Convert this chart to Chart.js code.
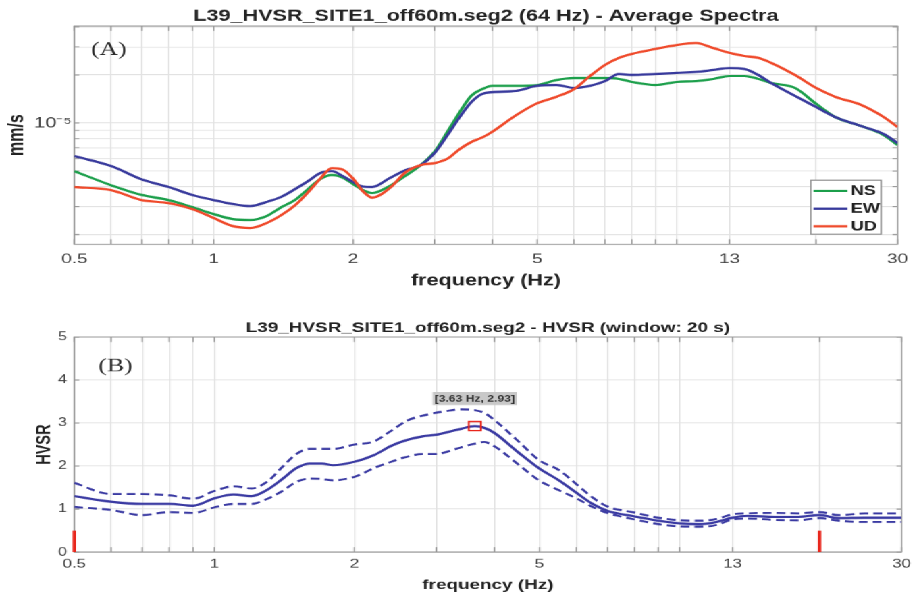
<!DOCTYPE html>
<html>
<head>
<meta charset="utf-8">
<script src="https://cdn.jsdelivr.net/npm/chart.js"></script>
<style>
  html, body { margin: 0; padding: 0; background: #fff; overflow: hidden; }
  /* la figura original viene estirada en horizontal */
  #figura { width: 679px; transform: scaleX(1.3505); transform-origin: 0 0; }
  canvas { display: block; }
</style>
</head>
<body>
<div id="figura">
  <canvas id="graficoEspectros" width="679" height="295"></canvas>
  <canvas id="graficoHvsr" width="679" height="300"></canvas>
</div>
<script>
// Datos

// (A) espectros promedio, valores en unidades de 1e-6 mm/s
const freqEspectros = [0.5, 0.6, 0.7, 0.8, 0.9, 1.0, 1.1, 1.2, 1.3, 1.4, 1.5, 1.6, 1.7, 1.8, 1.9,
  2.0, 2.1, 2.2, 2.4, 2.6, 2.8, 3.0, 3.2, 3.4, 3.6, 3.8, 4.0, 4.5, 5, 5.5, 6, 6.5, 7, 7.5, 8,
  9, 10, 11, 12, 13, 14, 15, 16, 18, 20, 22, 25, 28, 30];
const espectroNS = [5.00, 4.08, 3.54, 3.29, 2.97, 2.69, 2.50, 2.47, 2.61, 2.97, 3.30, 3.86, 4.46, 4.72, 4.55,
  4.15, 3.80, 3.64, 4.03, 4.69, 5.45, 6.62, 8.84, 11.7, 14.8, 16.3, 17.1, 17.1, 17.3, 18.6, 19.1, 19.1, 19.1, 18.9, 18.1,
  17.3, 18.1, 18.3, 18.9, 19.7, 19.7, 18.9, 17.8, 16.6, 13.2, 10.9, 9.58, 8.41, 7.28];
const espectroEW = [6.21, 5.38, 4.43, 3.97, 3.54, 3.29, 3.11, 3.02, 3.20, 3.45, 3.86, 4.33, 4.86, 5.00, 4.65,
  4.27, 4.00, 3.97, 4.52, 5.08, 5.45, 6.49, 8.41, 10.9, 13.5, 15.2, 15.6, 15.9, 17.1, 17.3, 16.6, 17.1, 18.3, 20.3, 20.0,
  20.3, 20.6, 20.9, 21.5, 22.1, 21.8, 20.0, 17.8, 14.8, 12.6, 10.9, 9.58, 8.53, 7.49];
const espectroUD = [3.97, 3.80, 3.29, 3.15, 2.89, 2.54, 2.26, 2.20, 2.36, 2.65, 3.06, 3.69, 4.49, 5.22, 5.11,
  4.49, 3.74, 3.41, 3.91, 4.93, 5.45, 5.61, 5.98, 6.87, 7.60, 8.11, 8.83, 11.2, 13.3, 14.6, 16.3, 19.7, 23.1, 25.6, 27.1,
  29.1, 30.8, 31.7, 29.5, 27.5, 26.3, 25.6, 23.8, 20.0, 16.6, 14.6, 13.0, 10.9, 9.44];
const UNIDAD_ESPECTRO = 1e-6;

// (B) curva HVSR con su banda (líneas discontinuas)
const freqHvsr = [0.5, 0.6, 0.7, 0.8, 0.9, 1.0, 1.1, 1.2, 1.3, 1.4, 1.5, 1.6, 1.7, 1.8,
  2.0, 2.2, 2.4, 2.6, 2.8, 3.0, 3.2, 3.4, 3.63, 3.8, 4.0, 4.5, 5, 5.5, 6, 6.5, 7,
  8, 9, 10, 11, 12, 13, 14, 16, 18, 20, 22, 25, 30];
const hvsrMedia = [1.30, 1.17, 1.12, 1.12, 1.08, 1.25, 1.34, 1.30, 1.45, 1.70, 1.95, 2.06, 2.06, 2.02,
  2.10, 2.25, 2.47, 2.61, 2.69, 2.73, 2.80, 2.87, 2.93, 2.89, 2.77, 2.32, 1.94, 1.67, 1.38, 1.12, 0.96,
  0.83, 0.73, 0.67, 0.65, 0.70, 0.80, 0.84, 0.82, 0.82, 0.86, 0.79, 0.80, 0.80];
const hvsrSuperior = [1.61, 1.35, 1.35, 1.32, 1.24, 1.42, 1.53, 1.48, 1.64, 1.98, 2.28, 2.40, 2.40, 2.40,
  2.50, 2.57, 2.82, 3.06, 3.17, 3.24, 3.29, 3.32, 3.30, 3.24, 3.07, 2.58, 2.13, 1.91, 1.58, 1.27, 1.06,
  0.92, 0.80, 0.74, 0.73, 0.77, 0.88, 0.90, 0.91, 0.90, 0.93, 0.86, 0.90, 0.90];
const hvsrInferior = [1.05, 0.98, 0.86, 0.93, 0.91, 1.04, 1.12, 1.12, 1.24, 1.42, 1.63, 1.71, 1.70, 1.67,
  1.75, 1.95, 2.10, 2.22, 2.28, 2.28, 2.35, 2.44, 2.52, 2.56, 2.46, 2.04, 1.66, 1.44, 1.25, 1.05, 0.91,
  0.76, 0.65, 0.60, 0.59, 0.63, 0.76, 0.78, 0.75, 0.74, 0.79, 0.73, 0.70, 0.70];
const picoFreq = 3.63;
const picoHvsr = 2.93;
const limitesFreq = [0.5, 20];
const alturaLimite = 0.5;

// Ejes y marcas
const marcasFreq = [0.5, 0.6, 0.7, 0.8, 0.9, 1, 2, 3, 4, 5, 6, 7, 8, 9, 10, 13, 20, 30];
const etiquetasFreq = [0.5, 1, 2, 5, 13, 30];
const marcasEspectro = [2e-6, 3e-6, 4e-6, 5e-6, 6e-6, 7e-6, 8e-6, 9e-6, 1e-5, 2e-5, 3e-5, 4e-5];

const COLOR_NS = '#1c9f4b';
const COLOR_EW = '#383a9c';
const COLOR_UD = '#ef4a2b';
const COLOR_HVSR = '#3a3aa2';
const COLOR_REJILLA = '#e2e2e2';
const COLOR_MARCO = '#979797';
const FUENTE = '"Liberation Sans", Arial, sans-serif';

Chart.defaults.font.family = FUENTE;
Chart.defaults.color = '#222';

function puntos(xs, ys, factor = 1) {
  return ys.map((v, i) => ({ x: xs[i], y: v * factor }));
}

// Eje de frecuencia logarítmico común a los dos paneles
function ejeFrecuencia(tamTicks, padTicks, tamTitulo, padTitulo, alto) {
  return {
    type: 'logarithmic', min: 0.5, max: 30,
    afterBuildTicks: s => { s.ticks = marcasFreq.map(v => ({ value: v })); },
    afterFit: s => { s.height = alto; },
    ticks: {
      autoSkip: false, maxRotation: 0, padding: padTicks, color: '#404040',
      font: { size: tamTicks },
      callback: v => etiquetasFreq.includes(v) ? String(v) : ''
    },
    grid: { color: COLOR_REJILLA, drawTicks: false },
    border: { display: false },
    title: {
      display: true, text: 'frequency (Hz)', color: '#222',
      font: { size: tamTitulo, weight: 'bold' }, padding: { top: 0, bottom: padTitulo }
    }
  };
}

// Marco del área de datos con marcas hacia dentro (estilo MATLAB)
const pluginMarco = {
  id: 'marco',
  beforeDatasetsDraw(chart) {
    const { ctx, chartArea: a, scales } = chart;
    ctx.save();
    ctx.strokeStyle = COLOR_MARCO;
    ctx.lineWidth = 1;
    ctx.strokeRect(a.left, a.top, a.width, a.height);
    ctx.beginPath();
    scales.x.ticks.forEach(t => {
      const px = scales.x.getPixelForValue(t.value);
      ctx.moveTo(px, a.bottom); ctx.lineTo(px, a.bottom - 5);
      ctx.moveTo(px, a.top); ctx.lineTo(px, a.top + 5);
    });
    scales.y.ticks.forEach(t => {
      const py = scales.y.getPixelForValue(t.value);
      ctx.moveTo(a.left, py); ctx.lineTo(a.left + 3.7, py);
      ctx.moveTo(a.right, py); ctx.lineTo(a.right - 3.7, py);
    });
    ctx.stroke();
    ctx.restore();
  }
};

// Letra del panel: (A), (B)
const pluginLetra = {
  id: 'letra',
  afterDraw(chart, args, opts) {
    const { ctx } = chart;
    ctx.save();
    ctx.font = '19px "Liberation Serif", "Times New Roman", serif';
    ctx.fillStyle = '#2a2a2a';
    ctx.textAlign = 'center';
    ctx.textBaseline = 'middle';
    ctx.fillText(opts.texto, opts.x, opts.y);
    ctx.restore();
  }
};

// Leyenda dentro del área, abajo a la derecha
const pluginLeyenda = {
  id: 'leyendaCaja',
  afterDraw(chart) {
    const { ctx, chartArea: a } = chart;
    const w = 52, h = 54;
    const x0 = a.right - 12.2 - w, y0 = a.bottom - 10 - h;
    ctx.save();
    ctx.fillStyle = '#fff';
    ctx.fillRect(x0, y0, w, h);
    ctx.strokeStyle = '#8a8a8a';
    ctx.lineWidth = 1;
    ctx.strokeRect(x0, y0, w, h);
    ctx.font = 'bold 13.5px ' + FUENTE;
    ctx.textBaseline = 'middle';
    chart.data.datasets.forEach((ds, i) => {
      const yy = y0 + 10.7 + i * 17.7;
      ctx.strokeStyle = ds.borderColor;
      ctx.lineWidth = 2.2;
      ctx.beginPath(); ctx.moveTo(x0 + 2, yy); ctx.lineTo(x0 + 27, yy); ctx.stroke();
      ctx.fillStyle = '#222';
      ctx.fillText(ds.label, x0 + 29.5, yy + 0.5);
    });
    ctx.restore();
  }
};

// Etiqueta gris del pico HVSR
const pluginPico = {
  id: 'etiquetaPico',
  afterDraw(chart) {
    const { ctx, scales } = chart;
    const px = scales.x.getPixelForValue(picoFreq);
    const py = scales.y.getPixelForValue(picoHvsr) - 27.5;
    const texto = `[${picoFreq} Hz, ${picoHvsr}]`;
    ctx.save();
    ctx.font = 'bold 9px ' + FUENTE;
    const w = ctx.measureText(texto).width + 3;
    ctx.fillStyle = '#c8c8c8';
    ctx.fillRect(px - w / 2, py - 6.5, w, 13);
    ctx.fillStyle = '#333';
    ctx.textAlign = 'center';
    ctx.textBaseline = 'middle';
    ctx.fillText(texto, px, py + 0.5);
    ctx.restore();
  }
};

function lineaEspectro(label, ys, color, orden) {
  return {
    label, data: puntos(freqEspectros, ys, UNIDAD_ESPECTRO),
    borderColor: color, borderWidth: 2.3, pointRadius: 0,
    cubicInterpolationMode: 'monotone', order: orden
  };
}

function crearEspectros() {
  return new Chart(document.getElementById('graficoEspectros'), {
    type: 'line',
    data: {
      datasets: [
        lineaEspectro('NS', espectroNS, COLOR_NS, 2),
        lineaEspectro('EW', espectroEW, COLOR_EW, 1),
        lineaEspectro('UD', espectroUD, COLOR_UD, 0)
      ]
    },
    options: {
      responsive: false, animation: false, devicePixelRatio: 1.3505,
      layout: { padding: { right: 10 } },
      scales: {
        x: ejeFrecuencia(14, 6.6, 16, 4.4, 51),
        y: {
          type: 'logarithmic', min: 1.74e-6, max: 4.05e-5,
          afterBuildTicks: s => { s.ticks = marcasEspectro.map(v => ({ value: v })); },
          afterFit: s => { s.width = 55; },
          ticks: {
            autoSkip: false, padding: 2, color: '#404040', font: { size: 15 },
            callback: v => Math.abs(v - 1e-5) < 1e-9 ? '10⁻⁵' : ''
          },
          grid: { color: COLOR_REJILLA, drawTicks: false },
          border: { display: false },
          title: {
            display: true, text: 'mm/s', color: '#222',
            font: { size: 16, weight: 'bold' }, padding: { top: 3, bottom: 0 }
          }
        }
      },
      plugins: {
        legend: { display: false },
        tooltip: { enabled: false },
        title: {
          display: true, fullSize: false, color: '#222',
          text: 'L39_HVSR_SITE1_off60m.seg2 (64 Hz) - Average Spectra',
          font: { size: 16, weight: 'bold' }, padding: { top: 6.4, bottom: 0.4 }
        },
        letra: { texto: '(A)', x: 80.5, y: 50 }
      }
    },
    plugins: [pluginMarco, pluginLetra, pluginLeyenda]
  });
}

function crearHvsr() {
  const discontinua = (label, ys) => ({
    label, data: puntos(freqHvsr, ys), borderColor: COLOR_HVSR, borderWidth: 2,
    borderDash: [6.5, 3.8], pointRadius: 0, cubicInterpolationMode: 'monotone', order: 2
  });
  const limites = limitesFreq.map(f => ({
    label: 'límite', data: [{ x: f, y: 0 }, { x: f, y: alturaLimite }],
    borderColor: '#e8261c', borderWidth: 2.6, pointRadius: 0, order: 0, clip: false
  }));
  return new Chart(document.getElementById('graficoHvsr'), {
    type: 'line',
    data: {
      datasets: [
        discontinua('HVSR + σ', hvsrSuperior),
        discontinua('HVSR - σ', hvsrInferior),
        {
          label: 'HVSR', data: puntos(freqHvsr, hvsrMedia), borderColor: COLOR_HVSR,
          borderWidth: 2.3, pointRadius: 0, cubicInterpolationMode: 'monotone', order: 1
        },
        {
          label: 'pico', data: [{ x: picoFreq, y: picoHvsr }], showLine: false,
          pointStyle: 'rect', pointRadius: 6.4, pointBorderColor: '#e8261c',
          pointBackgroundColor: 'rgba(0,0,0,0)', pointBorderWidth: 1.4, order: 0
        },
        ...limites
      ]
    },
    options: {
      responsive: false, animation: false, devicePixelRatio: 1.3505,
      layout: { padding: { right: 10 } },
      scales: {
        x: ejeFrecuencia(12.5, 4.5, 14, 1.6, 43),
        y: {
          type: 'linear', min: 0, max: 5,
          afterFit: s => { s.width = 55; },
          ticks: { stepSize: 1, padding: 5.4, color: '#404040', font: { size: 12 } },
          grid: { color: COLOR_REJILLA, drawTicks: false },
          border: { display: false },
          title: {
            display: true, text: 'HVSR', color: '#222',
            font: { size: 14.5, weight: 'bold' }, padding: { top: 24.6, bottom: 0 }
          }
        }
      },
      plugins: {
        legend: { display: false },
        tooltip: { enabled: false },
        title: {
          display: true, fullSize: false, color: '#222',
          text: 'L39_HVSR_SITE1_off60m.seg2 - HVSR (window: 20 s)',
          font: { size: 14, weight: 'bold' }, padding: { top: 24.6, bottom: 0.6 }
        },
        letra: { texto: '(B)', x: 85.5, y: 71 }
      }
    },
    plugins: [pluginMarco, pluginLetra, pluginPico]
  });
}

document.addEventListener('DOMContentLoaded', () => {
  crearEspectros();
  crearHvsr();
});
</script>
</body>
</html>
